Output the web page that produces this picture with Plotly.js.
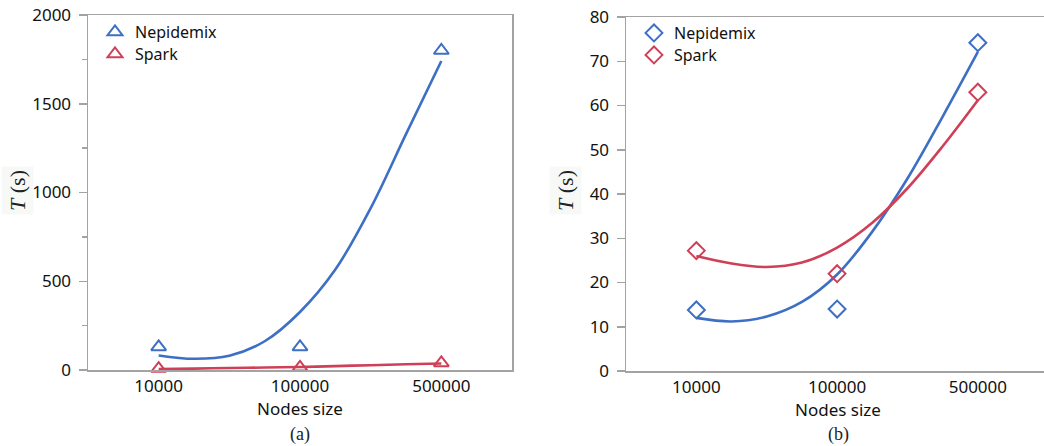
<!DOCTYPE html>
<html>
<head>
<meta charset="utf-8">
<script src="https://cdn.plot.ly/plotly-3.0.1.min.js"></script>
<style>
html,body{margin:0;padding:0;background:#fff;overflow:hidden;}
#chart{width:1044px;height:446px;}
</style>
</head>
<body>
<div id="chart"></div>
<script>
// ---------- data ----------
var categories = ["10000", "100000", "500000"];
var seriesNames = ["Nepidemix", "Spark"];

// (a) measured run times (s)
var aNepidemix = [130, 130, 1800];
var aSpark = [8, 15, 40];
// (a) smoother curves (x = category position)
var fitX = [0, 0.25, 0.5, 0.75, 1.0, 1.25, 1.5, 1.75, 2.0];
var aFitNepidemix = [82, 63, 80, 162, 327, 566, 912, 1329, 1741];
var aFitSpark = [5, 8, 11, 14, 17, 22, 27, 32, 37];

// (b) measured run times (s)
var bNepidemix = [13.8, 14.0, 74.2];
var bSpark = [27.2, 22.0, 63.0];
// (b) smoother curves
var bFitNepidemix = [12.0, 11.2, 12.3, 15.6, 21.8, 31.5, 43.5, 57.5, 72.1];
var bFitSpark = [26.0, 24.3, 23.5, 24.5, 27.9, 33.5, 41.3, 50.8, 61.2];

var aYTicks = [0, 500, 1000, 1500, 2000];
var bYTicks = [0, 10, 20, 30, 40, 50, 60, 70, 80];

// ---------- style ----------
var W = 1044, H = 446;
function px(x) { return x / W; }
function py(y) { return 1 - y / H; }
var BLUE = "#3d6fc4";
var RED = "#cf4058";
var AXIS = "#a3a3a3";
var FONT = "Noto Sans, Open Sans, sans-serif";
var SERIF = "Liberation Serif, Times New Roman, serif";
var catPos = categories.map(function (c, i) { return i; });

function fitLine(y, color, xa, ya) {
  return {x: fitX, y: y, xaxis: xa, yaxis: ya, mode: "lines",
    line: {color: color, width: 2.6, shape: "spline", smoothing: 1},
    showlegend: false, hoverinfo: "skip"};
}
function pts(y, name, color, symbol, xa, ya, legend) {
  return {x: catPos, y: y, xaxis: xa, yaxis: ya, mode: "markers", name: name, legend: legend,
    marker: {symbol: symbol, size: 13, color: color, line: {width: 2, color: color}}, cliponaxis: false};
}

var traces = [
  fitLine(aFitNepidemix, BLUE, "x", "y"),
  fitLine(aFitSpark, RED, "x", "y"),
  pts(aNepidemix, seriesNames[0], BLUE, "triangle-up-open", "x", "y", "legend"),
  pts(aSpark, seriesNames[1], RED, "triangle-up-open", "x", "y", "legend2"),
  fitLine(bFitNepidemix, BLUE, "x2", "y2"),
  fitLine(bFitSpark, RED, "x2", "y2"),
  pts(bNepidemix, seriesNames[0], BLUE, "diamond-open", "x2", "y2", "legend3"),
  pts(bSpark, seriesNames[1], RED, "diamond-open", "x2", "y2", "legend4")
];

function xAxis(domain, range) {
  return {
    domain: domain, range: range, tickvals: catPos, ticktext: categories,
    showline: true, linecolor: AXIS, linewidth: 1.5, mirror: true,
    ticks: "", showgrid: false, zeroline: false,
    tickfont: {family: FONT, size: 17, color: "#111"}, ticklabelstandoff: 0, fixedrange: true
  };
}
function yAxis(domain, range, tickvals, minor) {
  var ax = {
    domain: domain, range: range, tickvals: tickvals,
    showline: true, linecolor: AXIS, linewidth: 1.5,
    ticks: "outside", ticklen: 8, tickcolor: AXIS, tickwidth: 1.5,
    showgrid: false, zeroline: false,
    tickfont: {family: FONT, size: 17, color: "#111"}, ticklabelstandoff: 4, fixedrange: true
  };
  if (minor) ax.minor = {dtick: minor, ticks: "outside", ticklen: 5, tickcolor: AXIS, tickwidth: 1.5, showgrid: false};
  return ax;
}

var xa = xAxis([px(88), px(512)], [-0.5, 2.5]);
var xb = xAxis([px(626), 1], [-0.5, 2.47]);
var ya = yAxis([py(370), py(15)], [0, 2000], aYTicks, 250);
ya.mirror = true;
var yb = yAxis([py(371), py(17)], [0, 80], bYTicks, null);
yb.anchor = "x2";
xb.anchor = "y2";

function legendAt(xp, topPx) {
  return {x: px(xp), y: py(topPx), xanchor: "left", yanchor: "top", xref: "paper", yref: "paper",
    bgcolor: "rgba(0,0,0,0)", font: {family: FONT, size: 16, color: "#111"},
    itemwidth: 30, tracegroupgap: 0};
}

function label(text, x, y, font) {
  return {text: text, x: px(x), y: py(y), xref: "paper", yref: "paper", showarrow: false,
    xanchor: "center", yanchor: "middle", font: font};
}
var axisFont = {family: FONT, size: 17, color: "#111"};
var capFont = {family: SERIF, size: 18, color: "#222"};
var titleFont = {family: SERIF, size: 22, color: "#222"};
var annotations = [
  label("Nodes size", 300, 408, axisFont),
  label("Nodes size", 838, 409, axisFont),
  label("(a)", 300, 434, capFont),
  label("(b)", 838, 434, capFont)
];
[17, 565].forEach(function (x) {
  var a = label("<i>T</i> (s)", x, 191, titleFont);
  a.textangle = -90;
  a.bgcolor = "#f7f9f7";
  a.borderpad = 3;
  annotations.push(a);
});

var layout = {
  width: W, height: H, margin: {l: 0, r: 0, t: 0, b: 0},
  paper_bgcolor: "#fff", plot_bgcolor: "#fff",
  xaxis: xa, yaxis: ya, xaxis2: xb, yaxis2: yb,
  legend: legendAt(95, 15), legend2: legendAt(95, 37),
  legend3: legendAt(634, 16), legend4: legendAt(634, 38),
  annotations: annotations
};

Plotly.newPlot("chart", traces, layout, {staticPlot: true, displayModeBar: false});
</script>
</body>
</html>
